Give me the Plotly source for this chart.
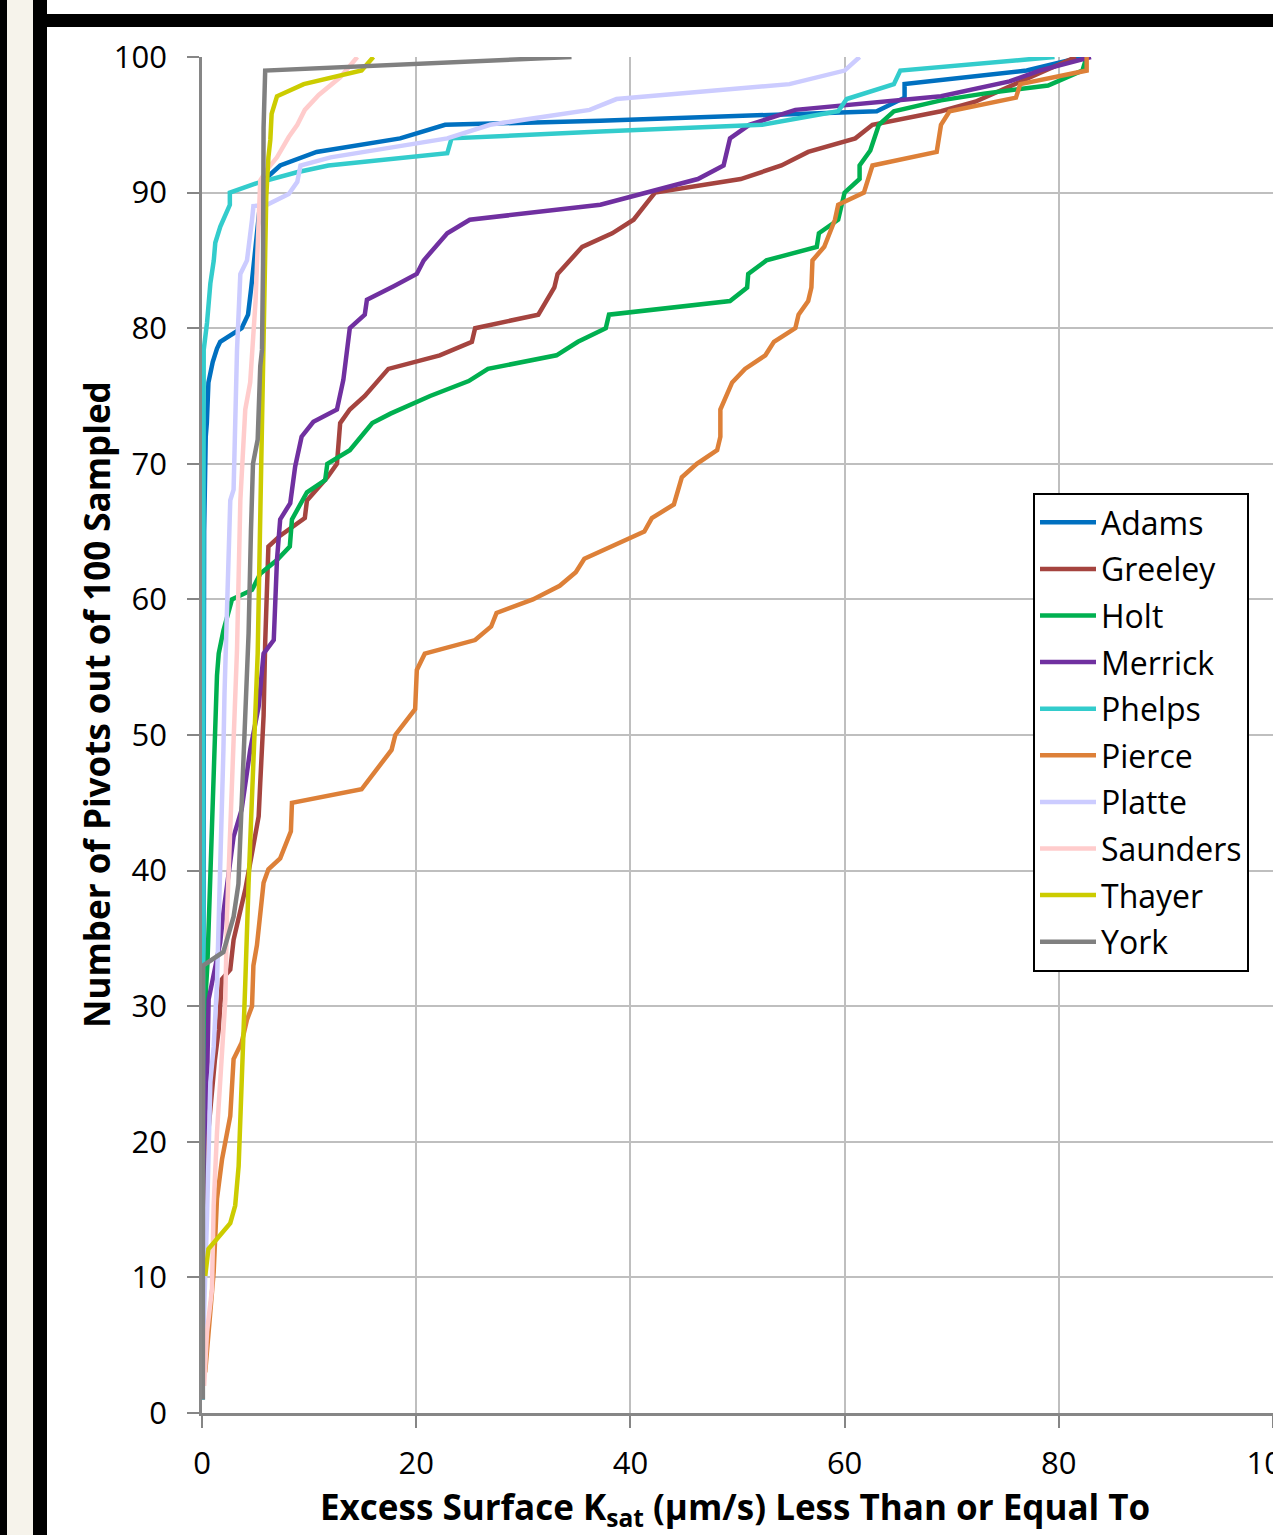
import plotly.graph_objects as go

# Cumulative count of sampled pivots (out of 100) whose excess surface Ksat
# is less than or equal to a given value, one curve per county.
counties = ["Adams", "Greeley", "Holt", "Merrick", "Phelps",
            "Pierce", "Platte", "Saunders", "Thayer", "York"]
line_colors = ["#0070C0", "#A5443F", "#00B050", "#7030A0", "#33CCCC",
               "#DD8038", "#CCCCFF", "#FFCCCC", "#CCCC00", "#808080"]

adams_x = [0.05, 0.1, 0.2, 0.35, 0.45, 0.6, 1.0, 1.4, 1.7, 3.7, 4.3, 4.6, 5.0, 5.4, 5.9,
           7.3, 10.7, 18.5, 22.7, 37.2, 63.0, 65.6, 65.6, 77.0, 82.2]
adams_y = [1, 40, 65, 72, 73, 76, 77.5, 78.5, 79, 80, 81, 83, 86, 89, 91,
           92, 93, 94, 95, 95.3, 96, 97, 98, 99, 100]

greeley_x = [0.05, 0.5, 1.2, 1.56, 1.87, 2.64, 2.95, 3.42, 4.04, 4.67, 5.29, 5.44, 5.75, 5.9,
             6.2, 7.3, 9.6, 9.8, 11.7, 12.6, 12.9, 13.8, 15.2, 17.4, 22.2, 25.2, 25.5, 31.4,
             32.9, 33.2, 35.5, 38.3, 40.3, 41.5, 42.3, 50.3, 54.1, 56.6, 61.0, 62.6, 69.0,
             72.2, 78.6, 81.6]
greeley_y = [10, 20, 26, 28.3, 32, 32.7, 34.9, 36.4, 38.6, 41.3, 44, 46.5, 51.4, 56.8,
             63.9, 64.7, 66, 67.3, 69, 70, 73, 74, 75, 77, 78, 79, 80, 81,
             83, 84, 86, 87, 88, 89.2, 90, 91, 92, 93, 94, 95, 96,
             96.7, 98.9, 100]

holt_x = [0.05, 0.2, 0.35, 0.5, 0.78, 1.09, 1.24, 1.4, 1.56, 2.0, 2.8, 4.67, 5.44, 7.0, 8.2,
          8.4, 9.8, 11.5, 11.7, 13.8, 15.9, 17.6, 21.3, 24.9, 26.7, 33.1, 35.1, 37.7, 38.0,
          49.3, 50.9, 51.0, 52.7, 57.4, 57.6, 59.4, 60.0, 61.4, 61.4, 62.4, 63.2, 64.6,
          69.0, 73.0, 79.0, 82.2, 82.6]
holt_y = [15, 25, 31, 33, 40, 49, 52, 54.4, 56, 57.7, 60, 60.7, 61.9, 62.9, 63.9,
          65.9, 67.9, 68.8, 70, 71, 73, 73.7, 75, 76.1, 77, 78, 79, 80, 81,
          82, 83, 84, 85, 86, 87, 88, 90, 91, 92, 93.1, 95, 96,
          96.8, 97.3, 97.9, 99, 100]

merrick_x = [0.05, 0.16, 0.47, 0.62, 0.93, 1.7, 2.0, 2.95, 3.7, 4.5, 5.29, 5.75, 6.7, 7.0,
             7.3, 8.24, 8.7, 9.3, 10.4, 12.6, 13.2, 13.8, 15.2, 15.4, 17.9, 20.05, 20.7,
             22.9, 25.0, 37.2, 46.3, 48.7, 49.3, 51.1, 55.4, 69.0, 75.4, 78.2, 83.0]
merrick_y = [12, 19.4, 24.4, 30.5, 31.7, 34.7, 36.9, 42.5, 44.5, 48.9, 52.1, 56, 57, 62.9,
             65.9, 67.1, 69.8, 72, 73.1, 74, 76.2, 80, 81, 82.1, 83.1, 84, 85,
             87, 88, 89.1, 91, 92, 94, 95, 96.1, 97.1, 98.2, 99, 100]

phelps_x = [0.05, 0.08, 0.1, 0.16, 0.47, 0.78, 1.1, 1.24, 1.71, 2.18, 2.6, 2.6, 5.13, 8.86,
            11.8, 22.9, 23.3, 37.2, 52.3, 59.4, 60.2, 64.6, 65.2, 79.6]
phelps_y = [1, 40, 70, 78.4, 80.4, 83.3, 85, 86.3, 87.5, 88.3, 89.1, 90, 90.7, 91.5,
            92, 92.9, 94, 94.5, 95, 96, 96.9, 98, 99, 100]

pierce_x = [0.3, 0.47, 0.78, 1.09, 1.4, 1.87, 2.64, 2.95, 3.7, 4.2, 4.67, 4.8, 5.13, 5.5,
            5.75, 6.2, 7.3, 8.3, 8.4, 14.9, 16.9, 17.7, 18.05, 19.9, 20.06, 20.8, 25.5,
            27.0, 27.5, 30.9, 33.4, 34.9, 35.7, 41.3, 42.0, 44.06, 44.8, 46.2, 48.1, 48.4,
            48.4, 49.5, 50.7, 52.6, 53.4, 55.4, 55.7, 56.6, 56.9, 57.0, 58.1, 59.1, 59.4,
            61.8, 62.6, 68.6, 69.0, 69.8, 76.0, 76.4, 82.6, 82.6]
pierce_y = [3, 4.7, 7.2, 10.4, 15.8, 18.7, 21.9, 26.1, 27.3, 29, 30, 33, 34.5, 37,
            39.1, 40.1, 40.9, 42.9, 45, 46, 48, 48.9, 50, 51.9, 54.8, 56, 57,
            58, 59, 60, 61, 62, 63, 65, 66, 67, 69, 70, 71, 72,
            74, 76, 77, 78, 79, 80, 81, 82, 83, 85, 86, 88, 89.1,
            90, 92, 93, 95, 96, 97, 98, 99, 100]

platte_x = [0.1, 0.31, 0.47, 0.78, 1.09, 1.4, 1.7, 2.0, 2.1, 2.64, 2.95, 3.1, 3.27, 3.58,
            4.2, 4.67, 4.8, 6.07, 8.1, 8.9, 9.2, 12.0, 22.9, 26.9, 36.2, 38.7, 54.85,
            60.0, 61.4]
platte_y = [5, 10.1, 14.5, 24.4, 27, 31.7, 39.1, 48.9, 53, 67.3, 68.1, 73.5, 78.4, 84,
            85, 88, 89, 89.1, 89.9, 90.8, 92, 92.6, 94, 95, 96.1, 96.9, 98,
            99, 100]

saunders_x = [0.2, 0.31, 0.47, 0.93, 1.09, 1.4, 1.87, 2.18, 2.33, 2.64, 2.95, 3.1, 3.27,
              3.58, 4.04, 4.5, 4.7, 5.0, 5.44, 6.07, 7.0, 8.1, 8.9, 9.6, 10.9, 12.9, 14.5]
saunders_y = [2, 3.5, 6, 9.1, 15.3, 20.7, 26.8, 30.5, 36.6, 42.8, 48.9, 52.6, 56.3,
              67.3, 74, 76, 78.4, 82, 90.9, 91.7, 92.6, 94.1, 95, 96.1, 97.2, 98.5, 100]

thayer_x = [0.3, 0.6, 2.64, 3.1, 3.42, 3.73, 3.9, 4.04, 4.35, 4.67, 5.0, 5.2, 5.5, 5.7,
            6.0, 6.2, 6.38, 6.5, 7.0, 9.5, 14.9, 16.0]
thayer_y = [10.1, 12.1, 14, 15.3, 18.2, 24.4, 27.5, 31.7, 39.1, 46.5, 52, 56, 67.3, 78.4,
            89.7, 92.6, 93.9, 95.8, 97.1, 98, 99, 100]

york_x = [0.08, 0.08, 0.1, 2.0, 2.95, 3.4, 3.6, 3.9, 4.05, 4.35, 4.57, 4.76, 5.2, 5.44,
          5.6, 5.7, 5.75, 5.9, 34.5]
york_y = [1, 20, 33, 34, 36.6, 39, 43, 47.7, 52.6, 57.5, 65, 70, 71.8, 77.2,
          78.4, 84.8, 94.8, 99, 100]

series_x = [adams_x, greeley_x, holt_x, merrick_x, phelps_x,
            pierce_x, platte_x, saunders_x, thayer_x, york_x]
series_y = [adams_y, greeley_y, holt_y, merrick_y, phelps_y,
            pierce_y, platte_y, saunders_y, thayer_y, york_y]

x_ticks = [0, 20, 40, 60, 80, 100]
y_ticks = [0, 10, 20, 30, 40, 50, 60, 70, 80, 90, 100]

# Figure geometry (pixels)
W, H = 1273, 1535
ML, MR, MT, MB = 202, 0, 57, 122
PW, PH = W - ML - MR, H - MT - MB


def px(xp):
    return (xp - ML) / PW


def py(yp):
    return (H - MB - yp) / PH


FONT = "Open Sans"

fig = go.Figure()
for i, name in enumerate(counties):
    fig.add_trace(go.Scatter(
        x=series_x[i], y=series_y[i], name=name, mode="lines",
        line=dict(color=line_colors[i], width=4.5),
        legendgroup=name,
    ))

# Page frame: black edge, cream strip and black bars round the chart
frame = [
    (0, 0, 7, H, "#000000"),
    (7, 0, 33, H, "#F6F3EB"),
    (33, 0, 47, H, "#000000"),
    (47, 14, W, 27, "#000000"),
]
shapes = []
for x0, y0, x1, y1, c in frame:
    shapes.append(dict(type="rect", xref="paper", yref="paper",
                       x0=px(x0), x1=px(x1), y0=py(y1), y1=py(y0),
                       fillcolor=c, line=dict(width=0), layer="above"))

axis_common = dict(
    showgrid=True, gridcolor="#BFBFBF", gridwidth=2,
    showline=True, linecolor="#868686", linewidth=2.5,
    ticks="outside", ticklen=12, tickwidth=2, tickcolor="#868686",
    zeroline=False, automargin=False, ticklabeloverflow="allow",
    tickfont=dict(family=FONT, size=31, color="#000000"),
)

fig.update_layout(
    width=W, height=H,
    margin=dict(l=ML, r=MR, t=MT, b=MB, pad=0),
    paper_bgcolor="#FFFFFF", plot_bgcolor="#FFFFFF",
    xaxis=dict(range=[0, 100], tickvals=x_ticks, ticklabelstandoff=9, **axis_common),
    yaxis=dict(range=[0, 100], tickvals=y_ticks, ticklabelstandoff=14, **axis_common),
    showlegend=True,
    legend=dict(
        x=px(1033), y=py(493), xanchor="left", yanchor="top",
        bgcolor="#FFFFFF", bordercolor="#000000", borderwidth=2,
        font=dict(family=FONT, size=32, color="#000000"),
        tracegroupgap=2, itemwidth=56,
    ),
    shapes=shapes,
    annotations=[
        dict(text="<b>Number of Pivots out of 100 Sampled</b>", textangle=-90,
             xref="paper", yref="paper", x=px(96), y=py(705),
             xanchor="center", yanchor="middle", showarrow=False,
             font=dict(family=FONT, size=35, color="#000000")),
        dict(text="<b>Excess Surface K<sub>sat</sub> (µm/s) Less Than or Equal To</b>",
             xref="paper", yref="paper", x=px(735), y=py(1508),
             xanchor="center", yanchor="middle", showarrow=False,
             font=dict(family=FONT, size=35, color="#000000")),
    ],
)

fig.write_html("out.html")
